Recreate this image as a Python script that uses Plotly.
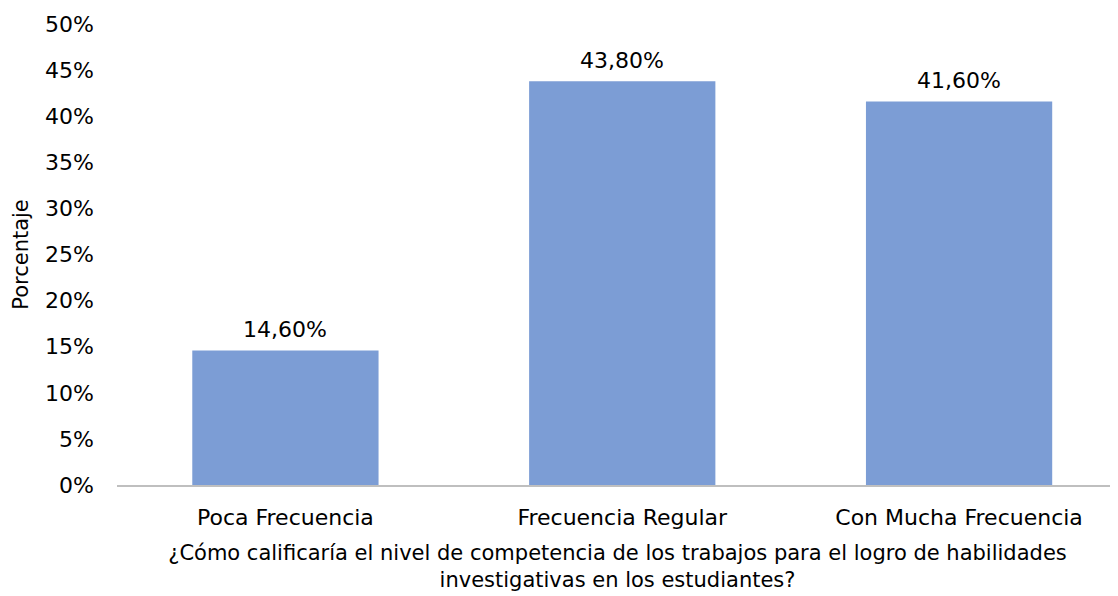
import plotly.graph_objects as go

categories = ["Poca Frecuencia", "Frecuencia Regular", "Con Mucha Frecuencia"]
values = [14.6, 43.8, 41.6]
labels = [f"{v:.2f}".replace(".", ",") + "%" for v in values]
tick_vals = list(range(0, 51, 5))
tick_text = [f"{t}%" for t in tick_vals]

FONT = "DejaVu Sans"
W, H = 1110, 588  # page body adds an 8px margin
CAT_PX = 337.0
L, R, T, B = 108.5, 0, 16, 111
plot_w = W - L - R

fig = go.Figure(go.Bar(
    x=categories, y=values,
    marker=dict(color="#7C9DD5", line=dict(width=0)),
))

for c, v, t in zip(categories, values, labels):
    fig.add_annotation(x=c, y=v, text=t, showarrow=False, yanchor="bottom",
                       yshift=6, font=dict(family=FONT, size=22, color="#000000"))

fig.update_layout(
    width=W, height=H,
    margin=dict(l=L, r=R, t=T, b=B, autoexpand=False),
    plot_bgcolor="white", paper_bgcolor="white",
    bargap=0.447,
    font=dict(family=FONT, size=22, color="#000000"),
    showlegend=False,
)
fig.update_xaxes(
    range=[-0.5, -0.5 + plot_w / CAT_PX],
    showline=True, linecolor="#BFBFBF", linewidth=2,
    showgrid=False, ticks="", tickfont=dict(size=22),
    ticklabelstandoff=12,
    title=dict(text="¿Cómo calificaría el nivel de competencia de los trabajos para el logro de habilidades<br>investigativas en los estudiantes?",
               font=dict(size=21), standoff=16),
)
fig.update_yaxes(
    range=[0, 50], tickvals=tick_vals, ticktext=tick_text,
    showgrid=False, showline=False, zeroline=False, ticks="",
    ticklabelstandoff=22, tickfont=dict(size=22),
    title=dict(text="Porcentaje", font=dict(size=21), standoff=10),
)

fig.write_html("out.html")
